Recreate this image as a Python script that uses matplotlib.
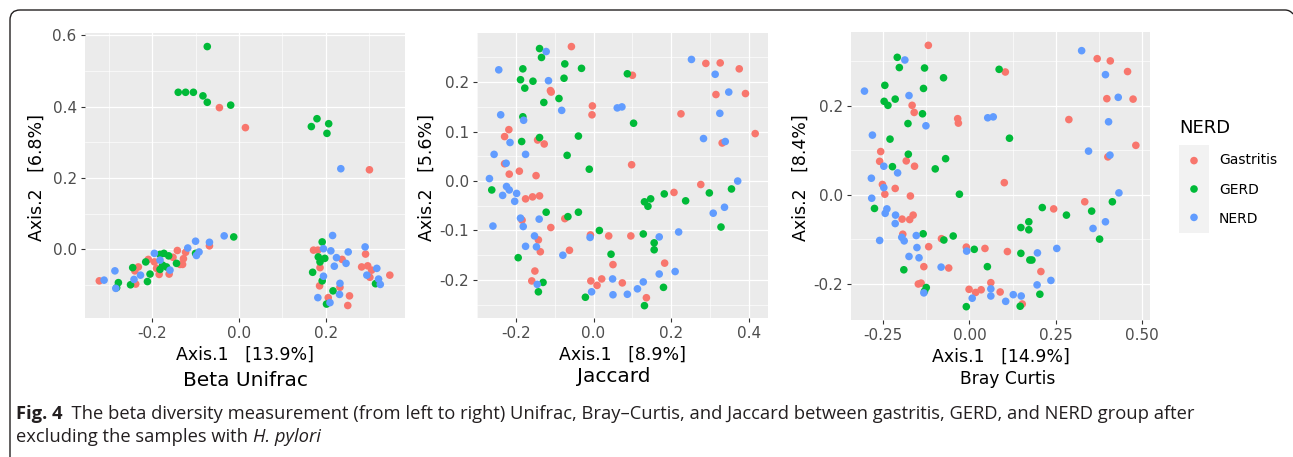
import matplotlib
matplotlib.use("Agg")
import matplotlib.pyplot as plt
from matplotlib.path import Path
from matplotlib.patches import PathPatch

# ---------------- data ----------------
groups = ["Gastritis", "GERD", "NERD"]
group_colors = ["#F8766D", "#00BA38", "#619CFF"]

# Beta Unifrac
unifrac_gastritis_x = [-0.045, 0.015, 0.301, -0.068, -0.142, -0.123, -0.152, -0.128, -0.13, -0.136, -0.195, -0.209,
                       -0.19, -0.184, -0.161, -0.232, -0.24, -0.238, -0.322, 0.172, 0.182, 0.238, 0.187, 0.292,
                       0.283, 0.297, 0.306, 0.302, 0.348, 0.233, 0.186, 0.255, 0.206, 0.251]
unifrac_gastritis_y = [0.397, 0.341, 0.223, 0.01, -0.003, -0.008, -0.022, -0.026, -0.042, -0.042, -0.035, -0.028,
                       -0.053, -0.07, -0.069, -0.049, -0.06, -0.097, -0.088, -0.002, -0.002, -0.028, -0.051, -0.013,
                       -0.049, -0.046, -0.058, -0.078, -0.072, -0.106, -0.102, -0.13, -0.135, -0.157]
unifrac_gerd_x = [-0.073, -0.14, -0.123, -0.105, -0.083, -0.073, -0.019, 0.18, 0.167, 0.207, 0.203, -0.012,
                  -0.1, -0.182, -0.173, -0.162, -0.144, -0.215, -0.176, -0.167, -0.182, -0.205, -0.245, -0.211,
                  -0.25, -0.278, -0.282, 0.192, 0.183, 0.198, 0.187, 0.17, 0.192, 0.315, 0.217, 0.202]
unifrac_gerd_y = [0.568, 0.44, 0.44, 0.44, 0.43, 0.412, 0.404, 0.366, 0.344, 0.352, 0.325, 0.035,
                  -0.011, -0.014, -0.011, -0.018, -0.039, -0.035, -0.044, -0.049, -0.056, -0.069, -0.051, -0.09,
                  -0.099, -0.093, -0.107, 0.021, -0.021, -0.025, -0.035, -0.064, -0.088, -0.096, -0.116, -0.153]
unifrac_nerd_x = [0.235, -0.034, -0.1, -0.068, -0.118, -0.092, -0.098, -0.195, -0.182, -0.159, -0.227, -0.286,
                  -0.242, -0.311, -0.284, 0.195, 0.216, 0.212, 0.225, 0.247, 0.22, 0.252, 0.195, 0.291,
                  0.318, 0.295, 0.322, 0.326, 0.233, 0.232, 0.182, 0.21]
unifrac_nerd_y = [0.226, 0.038, 0.023, 0.02, 0.004, -0.007, -0.017, -0.011, -0.03, -0.058, -0.072, -0.06,
                  -0.084, -0.086, -0.109, 0.002, 0.039, -0.004, -0.023, -0.039, -0.047, -0.007, -0.075, 0.007,
                  -0.053, -0.072, -0.083, -0.098, -0.095, -0.126, -0.135, -0.149]

# Jaccard
jaccard_gastritis_x = [-0.057, -0.111, -0.109, 0.1, -0.003, -0.004, -0.218, -0.229, -0.144, -0.127, -0.229, -0.217,
                       -0.191, -0.148, 0.098, -0.175, -0.157, -0.139, -0.184, -0.11, -0.074, -0.142, -0.137, -0.062,
                       -0.151, -0.159, -0.008, 0.039, 0.05, -0.007, 0.021, 0.009, 0.074, 0.136, 0.096, 0.183,
                       0.207, 0.225, 0.289, 0.326, 0.375, 0.315, 0.391, 0.331, 0.416, 0.276]
jaccard_gastritis_y = [0.272, 0.183, 0.18, 0.214, 0.152, 0.134, 0.104, 0.09, 0.083, 0.075, 0.035, 0.014,
                       0.02, 0.011, 0.033, -0.036, -0.032, -0.03, -0.079, -0.094, -0.076, -0.119, -0.143, -0.14,
                       -0.182, -0.202, -0.109, -0.111, -0.169, -0.202, -0.198, -0.211, -0.206, -0.236, -0.111, -0.166,
                       -0.023, 0.136, 0.238, 0.239, 0.227, 0.175, 0.177, 0.077, 0.096, -0.007]
jaccard_gerd_x = [-0.139, -0.134, -0.182, -0.074, -0.031, -0.188, -0.156, -0.076, -0.177, -0.089, -0.128, 0.087,
                  0.103, -0.182, -0.185, -0.139, -0.039, -0.068, -0.011, -0.262, -0.122, -0.066, -0.039, -0.194,
                  -0.13, -0.142, 0.015, 0.045, -0.021, 0.131, 0.128, 0.131, 0.14, 0.147, 0.156, 0.156,
                  0.18, 0.182, 0.237, 0.298, 0.355, 0.328]
jaccard_gerd_y = [0.268, 0.25, 0.227, 0.237, 0.228, 0.205, 0.202, 0.208, 0.188, 0.167, 0.159, 0.217,
                  0.117, 0.13, 0.08, 0.088, 0.091, 0.052, 0.024, -0.018, -0.063, -0.072, -0.063, -0.155,
                  -0.205, -0.224, -0.1, -0.148, -0.235, -0.252, -0.107, -0.042, -0.051, -0.036, -0.125, -0.139,
                  -0.215, -0.026, -0.04, -0.024, -0.016, -0.093]
jaccard_nerd_x = [-0.122, -0.244, -0.116, -0.082, 0.061, 0.073, -0.239, -0.18, -0.215, -0.256, -0.175, -0.225,
                  -0.268, -0.224, -0.217, -0.234, -0.198, -0.203, -0.188, -0.14, -0.259, -0.181, -0.152, -0.175,
                  -0.147, -0.079, -0.145, -0.009, 0.049, 0.05, -0.005, 0.087, 0.113, 0.128, 0.169, 0.169,
                  0.21, 0.219, 0.252, 0.313, 0.348, 0.325, 0.283, 0.339, 0.371, 0.308, 0.337]
jaccard_nerd_y = [0.262, 0.225, 0.203, 0.143, 0.148, 0.15, 0.134, 0.123, 0.078, 0.054, 0.054, 0.036,
                  0.005, -0.011, -0.018, -0.029, -0.025, -0.041, -0.075, -0.077, -0.091, -0.092, -0.111, -0.132,
                  -0.133, -0.15, -0.209, -0.114, -0.198, -0.23, -0.224, -0.229, -0.218, -0.204, -0.113, -0.188,
                  -0.183, -0.103, 0.246, 0.216, 0.18, 0.137, 0.086, 0.08, 0.0, -0.065, -0.053]

# Bray Curtis
bray_gastritis_x = [-0.119, 0.37, 0.408, 0.458, 0.104, -0.166, -0.16, 0.398, 0.474, -0.034, -0.032, 0.288,
                    0.482, -0.257, 0.401, -0.26, -0.183, -0.159, 0.101, -0.252, -0.215, -0.245, -0.171, -0.163,
                    -0.195, -0.173, -0.193, -0.118, -0.132, -0.148, -0.14, -0.081, -0.06, -0.009, 0.045, 0.062,
                    0.11, -0.001, 0.018, 0.034, 0.089, 0.153, 0.207, 0.244, 0.334]
bray_gastritis_y = [0.336, 0.306, 0.301, 0.277, 0.276, 0.201, 0.185, 0.216, 0.215, 0.171, 0.161, 0.169,
                    0.111, 0.097, 0.085, 0.075, 0.076, 0.064, 0.027, 0.023, 0.014, 0.001, -0.003, -0.046,
                    -0.055, -0.056, -0.089, -0.117, -0.162, -0.201, -0.199, -0.099, -0.165, -0.118, -0.121, -0.198,
                    -0.128, -0.213, -0.22, -0.214, -0.219, -0.246, -0.173, -0.032, -0.016]
bray_gerd_x = [-0.209, -0.203, -0.13, 0.086, -0.075, -0.245, -0.133, -0.215, -0.247, -0.236, -0.136, -0.178,
               -0.23, 0.116, -0.177, -0.069, -0.223, -0.099, -0.029, -0.275, -0.134, -0.19, -0.125, -0.13,
               -0.074, -0.047, 0.014, 0.052, -0.009, 0.147, 0.149, 0.172, 0.172, 0.149, 0.175, 0.181,
               0.204, 0.211, 0.281, 0.354, 0.414, 0.377]
bray_gerd_y = [0.309, 0.286, 0.285, 0.282, 0.263, 0.246, 0.239, 0.215, 0.21, 0.201, 0.182, 0.16,
               0.125, 0.127, 0.091, 0.081, 0.063, 0.058, 0.001, -0.031, -0.088, -0.169, -0.209, -0.217,
               -0.102, -0.093, -0.123, -0.162, -0.252, -0.251, -0.074, -0.061, -0.079, -0.132, -0.147, -0.147,
               -0.224, -0.029, -0.046, -0.037, -0.016, -0.1]
bray_nerd_x = [0.325, 0.394, -0.187, -0.304, -0.175, 0.431, 0.053, 0.069, 0.403, -0.126, -0.281, 0.345,
               0.407, -0.248, -0.208, -0.284, -0.248, -0.283, -0.239, -0.244, -0.214, -0.215, -0.26, -0.196,
               -0.189, -0.154, -0.152, -0.146, -0.175, -0.132, -0.082, -0.008, 0.008, 0.062, 0.062, 0.105,
               0.127, 0.15, 0.197, 0.196, 0.236, 0.253, 0.433, 0.394, 0.358]
bray_nerd_y = [0.324, 0.27, 0.303, 0.233, 0.223, 0.219, 0.173, 0.175, 0.164, 0.155, 0.134, 0.098,
               0.089, 0.064, 0.049, 0.037, 0.016, -0.008, -0.032, -0.042, -0.046, -0.065, -0.103, -0.096,
               -0.104, -0.092, -0.119, -0.142, -0.139, -0.221, -0.163, -0.127, -0.233, -0.212, -0.228, -0.24,
               -0.225, -0.228, -0.131, -0.203, -0.193, -0.121, 0.004, -0.061, -0.076]

panels = [
    dict(name="Beta Unifrac", xlab="Axis.1   [13.9%]", ylab="Axis.2   [6.8%]",
         data=[(unifrac_gastritis_x, unifrac_gastritis_y), (unifrac_gerd_x, unifrac_gerd_y),
               (unifrac_nerd_x, unifrac_nerd_y)],
         xlim=(-0.355, 0.383), ylim=(-0.192, 0.606),
         xmaj=[-0.2, 0.0, 0.2], xmin=[-0.3, -0.1, 0.1, 0.3],
         ymaj=[0.0, 0.2, 0.4, 0.6], ymin=[-0.1, 0.1, 0.3, 0.5],
         xfmt="{:.1f}", yfmt="{:.1f}",
         rect=[85, 33, 405, 318], xlab_y=355, name_y=381, name_x=245, ylab_x=37, name_fs=14.5),
    dict(name="Jaccard", xlab="Axis.1   [8.9%]", ylab="Axis.2   [5.6%]",
         data=[(jaccard_gastritis_x, jaccard_gastritis_y), (jaccard_gerd_x, jaccard_gerd_y),
               (jaccard_nerd_x, jaccard_nerd_y)],
         xlim=(-0.300, 0.449), ylim=(-0.277, 0.2995),
         xmaj=[-0.2, 0.0, 0.2, 0.4], xmin=[-0.3, -0.1, 0.1, 0.3],
         ymaj=[-0.2, -0.1, 0.0, 0.1, 0.2], ymin=[-0.25, -0.15, -0.05, 0.05, 0.15, 0.25],
         xfmt="{:.1f}", yfmt="{:.1f}",
         rect=[477, 33, 768, 318], xlab_y=355, name_y=377, name_x=614, ylab_x=427, name_fs=14.5),
    dict(name="Bray Curtis", xlab="Axis.1   [14.9%]", ylab="Axis.2   [8.4%]",
         data=[(bray_gastritis_x, bray_gastritis_y), (bray_gerd_x, bray_gerd_y),
               (bray_nerd_x, bray_nerd_y)],
         xlim=(-0.343, 0.523), ylim=(-0.282, 0.366),
         xmaj=[-0.25, 0.0, 0.25, 0.5], xmin=[-0.125, 0.125, 0.375],
         ymaj=[-0.2, 0.0, 0.2], ymin=[-0.1, 0.1, 0.3],
         xfmt="{:.2f}", yfmt="{:.1f}",
         rect=[851, 32, 1150, 320], xlab_y=357, name_y=379, name_x=1008, ylab_x=801, name_fs=12.3),
]

W, H = 1293, 457
plt.rcParams['font.family'] = ['DejaVu Sans']
fig = plt.figure(figsize=(W / 100, H / 100), dpi=100)


def fx(px):
    return px / W


def fy(py):
    return 1 - py / H


def fmt_num(v, f):
    s = f.format(v)
    if s.startswith("-0") and float(s) == 0:
        s = s[1:]
    return s


for p in panels:
    x0, y0, x1, y1 = p["rect"]
    ax = fig.add_axes([fx(x0), fy(y1), fx(x1 - x0), (y1 - y0) / H])
    ax.set_facecolor("#EBEBEB")
    for s in ax.spines.values():
        s.set_visible(False)
    ax.set_xlim(*p["xlim"])
    ax.set_ylim(*p["ylim"])
    ax.set_xticks(p["xmaj"])
    ax.set_yticks(p["ymaj"])
    ax.set_xticks(p["xmin"], minor=True)
    ax.set_yticks(p["ymin"], minor=True)
    ax.set_xticklabels([fmt_num(v, p["xfmt"]) for v in p["xmaj"]])
    ax.set_yticklabels([fmt_num(v, p["yfmt"]) for v in p["ymaj"]])
    ax.tick_params(which="major", length=3, width=0.8, color="#333333", labelcolor="#4D4D4D",
                   labelsize=11, pad=3)
    ax.tick_params(which="minor", length=0)
    ax.grid(which="major", color="white", lw=0.9)
    ax.grid(which="minor", color="white", lw=0.45)
    ax.set_axisbelow(True)
    for (gx, gy), col in zip(p["data"], group_colors):
        ax.scatter(gx, gy, s=30, color=col, edgecolors="none", zorder=3)
    fig.text(fx((x0 + x1) / 2), fy(p["xlab_y"]), p["xlab"], ha="center", va="center",
             fontsize=12.5, color="black")
    fig.text(fx(p["name_x"]), fy(p["name_y"]), p["name"], ha="center", va="center",
             fontsize=p["name_fs"], color="black")
    fig.text(fx(p["ylab_x"]), fy((y0 + y1) / 2 + 2), p["ylab"], ha="center", va="center",
             rotation=90, fontsize=12.5, color="black")

# legend
fig.text(fx(1179), fy(128), "NERD", ha="left", va="center", fontsize=13, color="black")
lax = fig.add_axes([fx(1179), fy(233), fx(30), (233 - 145) / H])
lax.set_facecolor("#F2F2F2")
for s in lax.spines.values():
    s.set_visible(False)
lax.set_xticks([])
lax.set_yticks([])
lax.set_xlim(0, 1)
lax.set_ylim(len(groups) - 0.5 + 0.05, -0.55)
for i, (g, c) in enumerate(zip(groups, group_colors)):
    lax.scatter([0.5], [i], s=30, color=c, edgecolors="none")
    fig.text(fx(1219), fy(160 + 29.5 * i), g, ha="left", va="center", fontsize=10, color="black")

# border with rounded corner
verts = [(fx(10), fy(457)), (fx(10), fy(20)), (fx(10), fy(10)), (fx(20), fy(10)),
         (fx(1285), fy(10)), (fx(1290), fy(10)), (fx(1293), fy(14))]
codes = [Path.MOVETO, Path.LINETO, Path.CURVE3, Path.CURVE3, Path.LINETO, Path.CURVE3, Path.CURVE3]
fig.patches.append(PathPatch(Path(verts, codes), transform=fig.transFigure, fill=False,
                             edgecolor="#231F20", lw=1.0))

# caption
cap_font = ['Liberation Sans Narrow', 'Open Sans', 'DejaVu Sans']
cap_color = "#231F20"
line1_parts = [("Fig. 4", "bold", "normal"),
               ("  The beta diversity measurement (from left to right) Unifrac, Bray\u2013Curtis, and Jaccard between gastritis, GERD, and NERD group after", "normal", "normal")]
line2_parts = [("excluding the samples with ", "normal", "normal"), ("H. pylori", "normal", "italic")]

fig.canvas.draw()
renderer = fig.canvas.get_renderer()


def draw_line(parts, ybase, fs):
    xcur = fx(16)
    texts = []
    for s, wt, st in parts:
        t = fig.text(xcur, fy(ybase), s, ha="left", va="baseline", fontsize=fs, fontweight=wt,
                     fontstyle=st, family=cap_font, color=cap_color)
        bb = t.get_window_extent(renderer)
        xcur = xcur + bb.width / W
        texts.append(t)
    return texts, xcur


fs = 12.0
texts, xend = draw_line(line1_parts, 419, fs)
target = fx(1195)
scale = (target - fx(16)) / (xend - fx(16))
for t in texts:
    t.remove()
fs = fs * scale
draw_line(line1_parts, 419, fs)
draw_line(line2_parts, 442, fs)

fig.savefig("out.png", dpi=100)
